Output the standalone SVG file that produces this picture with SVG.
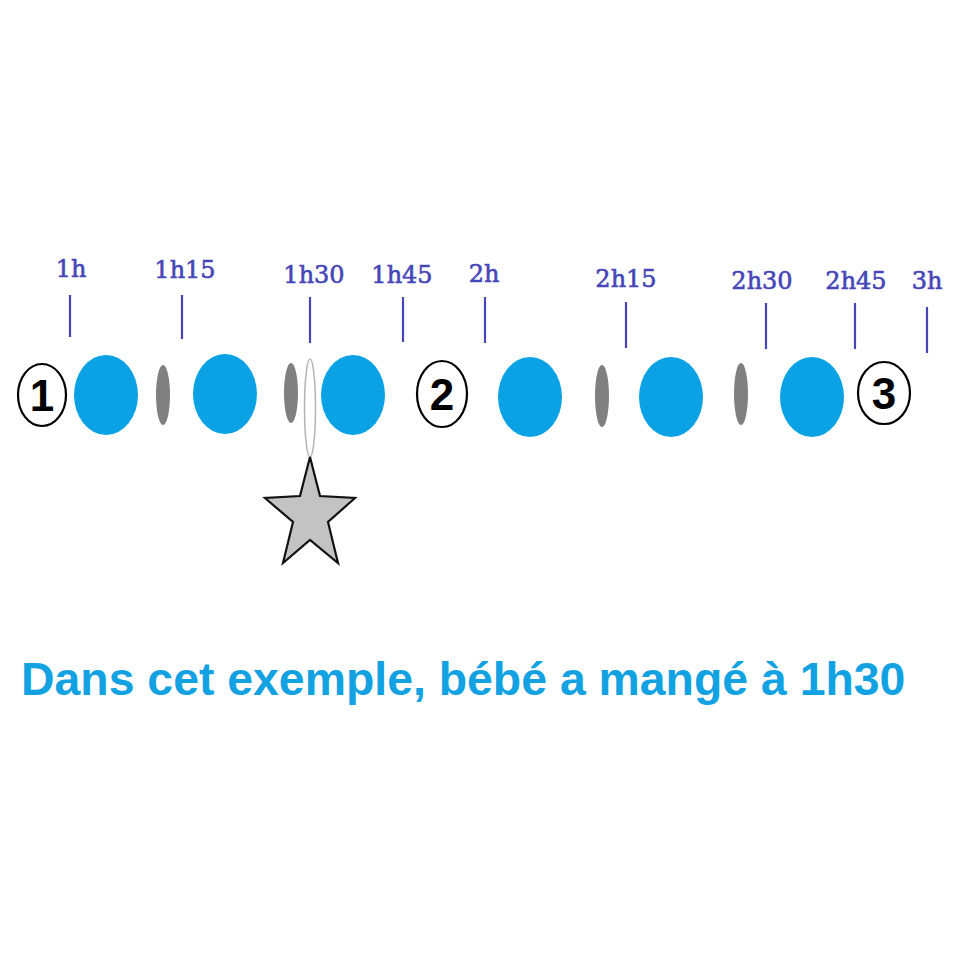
<svg xmlns="http://www.w3.org/2000/svg" width="980" height="980" viewBox="0 0 980 980">
<style>
.lbl{font-family:"DejaVu Serif","Liberation Serif",serif;font-size:24px;fill:#4646b8;stroke:#4646b8;stroke-width:0.6;text-anchor:middle}
.tick{stroke:#4646b8;stroke-width:2.2}
.blue{fill:#0aa2e4}
.gray{fill:#808080}
.num circle,.num ellipse{fill:#fff;stroke:#000;stroke-width:2.2}
.numt{font-family:"Liberation Sans",Arial,sans-serif;font-weight:bold;font-size:44px;fill:#000;text-anchor:middle}
.caption{font-family:"Liberation Sans",Arial,sans-serif;font-weight:bold;font-size:46.4px;fill:#12a2e2}
</style>
<rect width="980" height="980" fill="#fff"/>
<g id="labels">
<text class="lbl" x="71" y="277">1h</text>
<text class="lbl" x="185" y="278">1h15</text>
<text class="lbl" x="314" y="283">1h30</text>
<text class="lbl" x="402" y="283">1h45</text>
<text class="lbl" x="484" y="282">2h</text>
<text class="lbl" x="626" y="287">2h15</text>
<text class="lbl" x="762" y="289">2h30</text>
<text class="lbl" x="856" y="289">2h45</text>
<text class="lbl" x="927" y="289">3h</text>
</g>
<g id="ticks">
<line class="tick" x1="70" y1="295" x2="70" y2="337"/>
<line class="tick" x1="182" y1="295" x2="182" y2="339"/>
<line class="tick" x1="310" y1="297" x2="310" y2="343"/>
<line class="tick" x1="403" y1="297" x2="403" y2="342"/>
<line class="tick" x1="485" y1="297" x2="485" y2="343"/>
<line class="tick" x1="626" y1="302" x2="626" y2="348"/>
<line class="tick" x1="766" y1="303" x2="766" y2="349"/>
<line class="tick" x1="855" y1="303" x2="855" y2="349"/>
<line class="tick" x1="927" y1="307" x2="927" y2="353"/>
</g>
<g id="n1" class="num"><ellipse cx="42" cy="395" rx="24" ry="31"/><text class="numt" x="42" y="411">1</text></g>
<g id="n2" class="num"><ellipse cx="442" cy="394" rx="25" ry="33"/><text class="numt" x="442" y="410">2</text></g>
<g id="n3" class="num"><ellipse cx="884" cy="393" rx="26" ry="31"/><text class="numt" x="884" y="409">3</text></g>
<g id="b1"><ellipse class="blue" cx="106" cy="395" rx="32" ry="40"/></g>
<g id="g1"><ellipse class="gray" cx="163" cy="395" rx="7" ry="30"/></g>
<g id="b2"><ellipse class="blue" cx="225" cy="394" rx="32" ry="40"/></g>
<g id="g2"><ellipse class="gray" cx="291" cy="393" rx="7" ry="30"/></g>
<g id="b3"><ellipse class="blue" cx="353" cy="395" rx="32" ry="40"/></g>
<g id="b4"><ellipse class="blue" cx="530" cy="397" rx="32" ry="40"/></g>
<g id="g3"><ellipse class="gray" cx="602" cy="396" rx="7" ry="31"/></g>
<g id="b5"><ellipse class="blue" cx="671" cy="397" rx="32" ry="40"/></g>
<g id="g4"><ellipse class="gray" cx="741" cy="394" rx="7" ry="31"/></g>
<g id="b6"><ellipse class="blue" cx="812" cy="397" rx="32" ry="40"/></g>
<g id="marker">
<ellipse cx="310" cy="408" rx="5.5" ry="49" fill="none" stroke="#b4b4b4" stroke-width="1.5"/>
<polygon points="310,457 320,496 355,498 328,522 338,563 310,540 283,563 293,522 265,498 300,496" fill="#c3c3c3" stroke="#111" stroke-width="2.2" stroke-linejoin="miter"/>
</g>
<g id="connectors"></g>
<text class="caption" x="21" y="695">Dans cet exemple, bébé a mangé à 1h30</text>
</svg>
